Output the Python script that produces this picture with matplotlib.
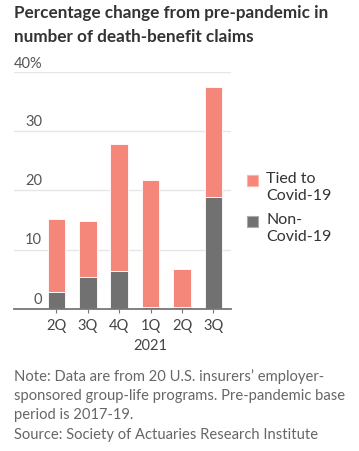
import matplotlib.pyplot as plt
import numpy as np

plt.rcParams['font.family'] = ['Lato', 'DejaVu Sans']

quarters = ["2Q", "3Q", "4Q", "1Q", "2Q", "3Q"]
non_covid = [2.9, 5.35, 6.3, 0.3, 0.35, 18.95]
total = [15.1, 14.9, 27.8, 21.8, 6.75, 37.4]
tied_covid = [t - n for t, n in zip(total, non_covid)]

salmon = "#F4877A"
gray = "#717171"

W, H = 359, 452
fig = plt.figure(figsize=(W / 100, H / 100), dpi=100)
# axes in pixel coords: left 14, right 231, top 73 (40), bottom 309.7 (0)
ax = fig.add_axes([14 / W, 1 - 309.7 / H, (231 - 14) / W, (309.7 - 73) / H])

x = np.arange(len(quarters))
ax.bar(x, non_covid, width=0.56, color=gray, edgecolor="white", linewidth=0.6, zorder=3)
ax.bar(x, tied_covid, bottom=non_covid, width=0.56, color=salmon,
       edgecolor="white", linewidth=0.6, zorder=3)

ax.set_xlim(-1.35, 5.56)
ax.set_ylim(0, 40)
for v in [10, 20, 30, 40]:
    ax.axhline(v, color="#e6e6e6", lw=1, zorder=1)
for s in ["top", "right", "left"]:
    ax.spines[s].set_visible(False)
ax.spines["bottom"].set_color("#777777")
ax.spines["bottom"].set_linewidth(1.3)
ax.spines["bottom"].set_zorder(4)
ax.set_yticks([])
ax.set_xticks(x)
ax.set_xticklabels(quarters, fontsize=10.5, color="#444444")
ax.tick_params(axis="x", length=3, color="#777777", pad=4)

# y labels sit above the gridlines
lab_x = 28 / 217 * 6.91 - 1.35
for v in [10, 20, 30]:
    ax.text(lab_x, v + 0.6, str(v), ha="right", va="bottom",
            fontsize=10.5, color="#555555")
ax.text(lab_x, 0.4, "0", ha="right", va="bottom", fontsize=10.5, color="#555555")
ax.text(-1.35, 40.4, "40%", ha="left", va="bottom", fontsize=10.5, color="#555555")

ax.text(3, -5.0, "2021", ha="center", va="top", fontsize=10.5, color="#444444")

fig.text(14 / W, 1 - 5 / H, "Percentage change from pre-pandemic in\nnumber of death-benefit claims",
         ha="left", va="top", fontsize=12.3, fontweight="bold", color="#333333",
         linespacing=1.6)

# legend
fig.patches.append(plt.Rectangle((247 / W, 1 - 187 / H), 11 / W, 11 / H,
                                 transform=fig.transFigure, facecolor=salmon,
                                 edgecolor="#f9b5ac", lw=0.8))
fig.patches.append(plt.Rectangle((247 / W, 1 - 228 / H), 11 / W, 11 / H,
                                 transform=fig.transFigure, facecolor=gray,
                                 edgecolor="#aaaaaa", lw=0.8))
fig.text(266 / W, 1 - 172 / H, "Tied to\nCovid-19", ha="left", va="top",
         fontsize=11.5, color="#333333", linespacing=1.25)
fig.text(266 / W, 1 - 213 / H, "Non-\nCovid-19", ha="left", va="top",
         fontsize=11.5, color="#333333", linespacing=1.25)

fig.text(14 / W, 1 - 369 / H,
         "Note: Data are from 20 U.S. insurers\u2019 employer-\n"
         "sponsored group-life programs. Pre-pandemic base\n"
         "period is 2017-19.",
         ha="left", va="top", fontsize=10.6, color="#666666", linespacing=1.45)
fig.text(14 / W, 1 - 428 / H, "Source: Society of Actuaries Research Institute",
         ha="left", va="top", fontsize=10.6, color="#666666")

fig.savefig("out.png", dpi=100)
